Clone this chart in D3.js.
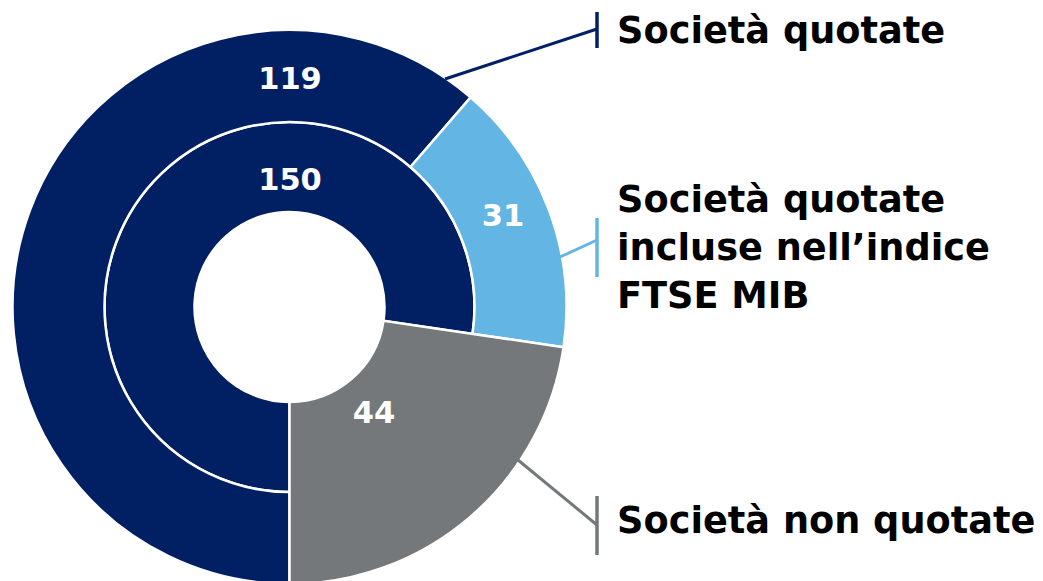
<!DOCTYPE html>
<html>
<head>
<meta charset="utf-8">
<script src="https://cdn.jsdelivr.net/npm/d3@7"></script>
<style>
  html, body { margin: 0; padding: 0; background: #ffffff; }
  svg { display: block; }
</style>
</head>
<body>
<svg id="chart" width="1043" height="581"></svg>
<script>
// ---- Data ----
const outerCategories = ["Società quotate", "Società quotate incluse nell’indice FTSE MIB", "Società non quotate"];
const outerValues = [119, 31, 44];
const innerCategories = ["Società quotate (totale)", "Società non quotate"];
const innerValues = [150, 44];
const legendLabels = [
  ["Società quotate"],
  ["Società quotate", "incluse nell’indice", "FTSE MIB"],
  ["Società non quotate"]
];

// ---- Styles ----
const colors = { navy: "#012064", light: "#63b5e4", gray: "#75787b" };
const outerColors = [colors.navy, colors.light, colors.gray];
const innerColors = [colors.navy, colors.gray];

const svg = d3.select("#chart");
const cx = 289.5, cy = 307;
const rHole = 95, rMid = 185, rOuter = 277;

const g = svg.append("g").attr("transform", `translate(${cx},${cy})`);

const pie = d3.pie().sort(null).startAngle(Math.PI).endAngle(3 * Math.PI);
const outerArcs = pie(outerValues);
const innerArcs = pie(innerValues);

// Inner ring (navy only; gray wedge drawn full thickness in outer layer)
const innerArc = d3.arc().innerRadius(rHole).outerRadius(rMid);
g.selectAll("path.inner")
  .data(innerArcs.filter((d, i) => i === 0))
  .join("path")
  .attr("class", "inner")
  .attr("d", innerArc)
  .attr("fill", innerColors[0])
  .attr("stroke", "#fff")
  .attr("stroke-width", 2.5);

// Outer ring; last (gray) segment spans from hole to outer edge
g.selectAll("path.outer")
  .data(outerArcs)
  .join("path")
  .attr("class", "outer")
  .attr("d", (d, i) => d3.arc().innerRadius(i === 2 ? rHole : rMid).outerRadius(rOuter)(d))
  .attr("fill", (d, i) => outerColors[i])
  .attr("stroke", "#fff")
  .attr("stroke-width", 2.5);

// Value labels
const font = "'DejaVu Sans', Verdana, sans-serif";
const labelPos = [
  { v: outerValues[0], x: 0.5, y: -218 },
  { v: outerValues[1], x: 213.5, y: -81 },
  { v: outerValues[2], x: 84.5, y: 116 },
  { v: innerValues[0], x: 0.5, y: -117 }
];
g.selectAll("text.val")
  .data(labelPos)
  .join("text")
  .attr("class", "val")
  .attr("x", d => d.x)
  .attr("y", d => d.y)
  .attr("text-anchor", "middle")
  .attr("font-family", font)
  .attr("font-weight", "bold")
  .attr("font-size", 30.5)
  .attr("fill", "#fff")
  .text(d => d.v);

// Leader lines
const leaders = [
  { color: colors.navy, x1: 445, y1: 79, x2: 597, y2: 29, by1: 12, by2: 48 },
  { color: colors.light, x1: 560, y1: 257, x2: 597, y2: 240, by1: 218, by2: 277 },
  { color: colors.gray, x1: 518, y1: 460, x2: 597, y2: 525, by1: 496, by2: 555 }
];
leaders.forEach(l => {
  svg.append("line").attr("x1", l.x1).attr("y1", l.y1).attr("x2", l.x2).attr("y2", l.y2)
    .attr("stroke", l.color).attr("stroke-width", 3);
  svg.append("line").attr("x1", l.x2).attr("y1", l.by1).attr("x2", l.x2).attr("y2", l.by2)
    .attr("stroke", l.color).attr("stroke-width", 3.5);
});

// Legend texts
const legendY = [43, 212, 533];
legendLabels.forEach((lines, i) => {
  const t = svg.append("text")
    .attr("x", 617)
    .attr("y", legendY[i])
    .attr("font-family", font)
    .attr("font-weight", "bold")
    .attr("font-size", 36.7)
    .attr("fill", "#000");
  lines.forEach((ln, j) => {
    t.append("tspan").attr("x", 617).attr("dy", j === 0 ? 0 : 48).text(ln);
  });
});
</script>
</body>
</html>
